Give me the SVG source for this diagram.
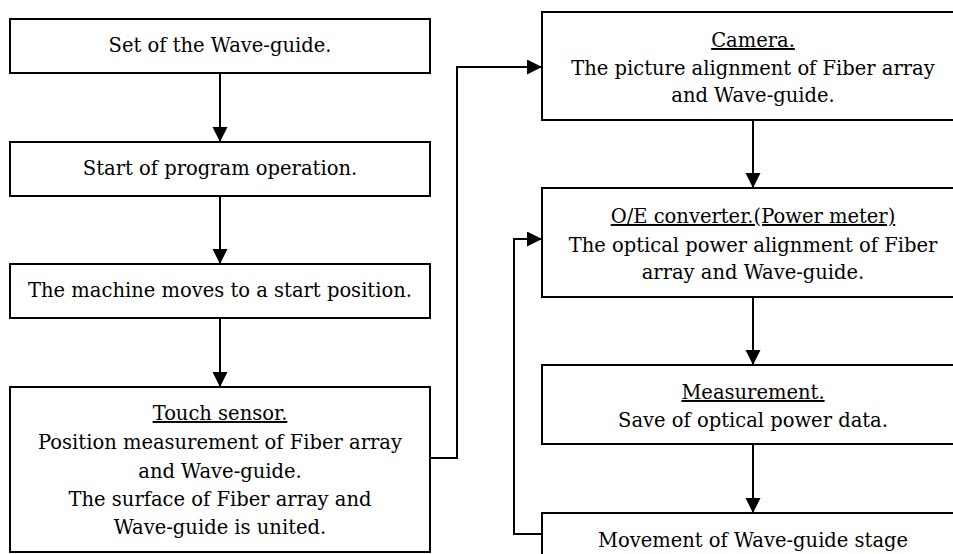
<svg xmlns="http://www.w3.org/2000/svg" width="953" height="554" viewBox="0 0 953 554">
<defs>
<marker id="ah" markerUnits="userSpaceOnUse" markerWidth="16" markerHeight="16" refX="15" refY="7.5" orient="auto"><path d="M0,0 L15,7.5 L0,15 z" fill="#000"/></marker>
<style>
.box{fill:#fff;stroke:#000;stroke-width:2}
.c{fill:none;stroke:#000;stroke-width:2;marker-end:url(#ah)}
text{font-family:"DejaVu Serif","Liberation Serif",serif;font-size:19.5px;fill:#000;text-anchor:middle}
.u{text-decoration:underline}
</style>
</defs>
<rect width="953" height="554" fill="#fff"/>
<g id="connectors">
<path class="c" d="M220,73 V142"/>
<path class="c" d="M220,196 V264"/>
<path class="c" d="M220,318 V387"/>
<path class="c" d="M430,458 H457 V67 H542"/>
<path class="c" d="M753,120 V188"/>
<path class="c" d="M753,297 V365"/>
<path class="c" d="M753,444 V513"/>
<path class="c" d="M542,534 H514 V239 H542"/>
</g>
<g id="n1"><rect class="box" x="10" y="19" width="420" height="54"/><text x="220" y="52">Set of the Wave-guide.</text></g>
<g id="n2"><rect class="box" x="10" y="142" width="420" height="54"/><text x="220" y="175">Start of program operation.</text></g>
<g id="n3"><rect class="box" x="10" y="264" width="420" height="54"/><text x="220" y="297">The machine moves to a start position.</text></g>
<g id="n4"><rect class="box" x="10" y="387" width="420" height="165"/>
<text x="220" y="420" class="u">Touch sensor.</text>
<text x="220" y="449">Position measurement of Fiber array</text>
<text x="220" y="478">and Wave-guide.</text>
<text x="220" y="506">The surface of Fiber array and</text>
<text x="220" y="534">Wave-guide is united.</text></g>
<g id="n5"><rect class="box" x="542" y="12" width="422" height="108"/>
<text x="753" y="47" class="u">Camera.</text>
<text x="753" y="75">The picture alignment of Fiber array</text>
<text x="753" y="102">and Wave-guide.</text></g>
<g id="n6"><rect class="box" x="542" y="188" width="422" height="109"/>
<text x="753" y="223" class="u">O/E converter.(Power meter)</text>
<text x="753" y="252">The optical power alignment of Fiber</text>
<text x="753" y="279">array and Wave-guide.</text></g>
<g id="n7"><rect class="box" x="542" y="365" width="422" height="79"/>
<text x="753" y="399" class="u">Measurement.</text>
<text x="753" y="427">Save of optical power data.</text></g>
<g id="n8"><rect class="box" x="542" y="513" width="422" height="60"/>
<text x="753" y="547">Movement of Wave-guide stage</text></g>
</svg>
